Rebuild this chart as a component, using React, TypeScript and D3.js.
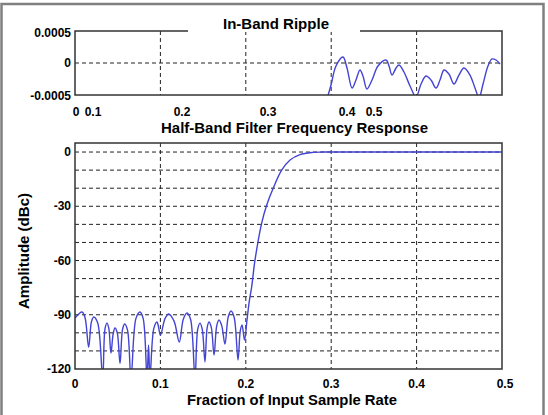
import React from 'react';
import * as d3 from 'd3';

const W = 548;
const H = 415;

// top panel: in-band ripple
const rippleFreq = [0.2951, 0.2998, 0.3056, 0.3138, 0.3185, 0.3244, 0.329, 0.3337, 0.3372, 0.3419, 0.3478, 0.3548, 0.3642, 0.3677, 0.3712, 0.3759, 0.3794, 0.3852, 0.3923, 0.3993, 0.4052, 0.411, 0.4169, 0.4227, 0.4274, 0.4321, 0.4379, 0.4438, 0.4496, 0.4555, 0.4625, 0.4684, 0.4731, 0.4778, 0.4836, 0.4883, 0.493, 0.4977];
const rippleAmp = [-0.00056, -0.000344, -0.000047, 0.000094, -0.000078, -0.000391, -0.000266, -0.000109, -0.000203, -0.000406, -0.000266, -0.000047, 0.000047, -0.000047, -0.000188, -0.000078, -0.000031, -0.000141, -0.000359, -0.00053, -0.000328, -0.000203, -0.000266, -0.000391, -0.000266, -0.000109, -0.000172, -0.000328, -0.000188, -0.000078, -0.000188, -0.000391, -0.00054, -0.000328, -0.000047, 0.000063, 0.000047, -0.000016];
const rippleGrid = [0.1, 0.2, 0.3, 0.4];
const rippleYTicks = [0.0005, 0, -0.0005];
const rippleYText = ['0.0005', '0', '-0.0005'];
// tick labels sit where the original drew them (not under the grid lines)
const rippleTickText = ['0', '0.1', '0.2', '0.3', '0.4', '0.5'];
const rippleTickAt = [0.0012, 0.0211, 0.1253, 0.226, 0.3185, 0.3501];

// bottom panel: half-band filter response (stopband lobes, transition, passband)
const respFreq = [
  0, 0.0082, 0.0117, 0.016, 0.0192, 0.0219, 0.0266, 0.0324, 0.0352, 0.0375,
  0.0396, 0.0421, 0.0447, 0.0468, 0.0495, 0.0527, 0.0557, 0.0582, 0.0615, 0.0656,
  0.0714, 0.0761, 0.0798, 0.0843, 0.0861, 0.0878, 0.0923, 0.096, 0.0975, 0.1001,
  0.1055, 0.1097, 0.116, 0.1221, 0.1268, 0.1311, 0.1353, 0.1405, 0.1437, 0.1464,
  0.149, 0.1522, 0.1548, 0.1569, 0.1596, 0.1628, 0.166, 0.1686, 0.1718, 0.1756,
  0.1795, 0.1827, 0.1864, 0.1909, 0.1935, 0.1956, 0.1985, 0.2014, 0.2043, 0.2069,
  0.2108, 0.2186, 0.2245, 0.2322, 0.242, 0.2518, 0.2635, 0.2787, 0.29, 0.32, 0.5,
];
const respDb = [
  -91.8, -88.5, -91.5, -108, -94, -91.2, -94.5, -125, -97.5, -94.6,
  -97.5, -111.2, -100.5, -97.3, -100, -117, -98, -95.1, -98.5, -125,
  -92, -88.5, -92, -125, -106.7, -125, -97.5, -94, -96, -101.2,
  -92, -89.6, -93.5, -105.1, -92.5, -89, -92.5, -125, -98, -94.6,
  -98, -116.1, -97, -94, -97, -112.3, -96, -92.9, -96, -106.2,
  -91, -87.9, -91.5, -115, -99, -95.7, -104, -92.9, -81.8, -74.5,
  -59.7, -39.3, -29.3, -19.9, -10, -4.4, -1.4, -0.2, 0, 0, 0,
];
const freqTicks = [0, 0.1, 0.2, 0.3, 0.4, 0.5];
const freqGrid = [0.1, 0.2, 0.3, 0.4];
const dbTicks = [0, -30, -60, -90, -120];
const dbGrid = [0, -10, -20, -30, -40, -50, -60, -70, -80, -90, -100, -110];

const LINE = '#4343d4';
const BOX = '#333';
const FONT = '"Liberation Sans", Arial, sans-serif';

const App: React.FC = () => {
  const xTop = d3.scaleLinear().domain([0, 0.5]).range([75, 502]);
  const yTop = d3.scaleLinear().domain([-0.0005, 0.0005]).range([95, 31]);
  const x = d3.scaleLinear().domain([0, 0.5]).range([75, 502]);
  const y = d3.scaleLinear().domain([-120, 5]).range([369, 143]);

  const rippleLine = d3.line<number>()
    .x((_, i) => xTop(rippleFreq[i]))
    .y((d) => yTop(d))
    .curve(d3.curveCatmullRom.alpha(0.5));

  const respLine = d3.line<number>()
    .x((_, i) => x(respFreq[i]))
    .y((d) => y(d))
    .curve(d3.curveCatmullRom.alpha(0.5));

  const [tx0, tx1] = xTop.range();
  const [ty1, ty0] = yTop.range();
  const [mx0, mx1] = x.range();
  const [my1, my0] = y.range();

  return (
    <svg width={W} height={H} style={{ position: 'absolute', left: 0, top: 0, background: '#fff' }}
      fontFamily={FONT} fontWeight="bold">
      <defs>
        <clipPath id="clipTop"><rect x={tx0} y={ty0} width={tx1 - tx0} height={ty1 - ty0} /></clipPath>
        <clipPath id="clipMain"><rect x={mx0} y={my0} width={mx1 - mx0} height={my1 - my0} /></clipPath>
      </defs>

      {/* outer frame */}
      <rect x={1.5} y={4} width={542} height={430} fill="none" stroke="#808080" strokeWidth={2.5} />

      {/* ===== In-Band Ripple ===== */}
      <g>
        {rippleGrid.map((g) => (
          <line key={'rv' + g} x1={xTop(g)} x2={xTop(g)} y1={ty0} y2={ty1}
            stroke="#222" strokeWidth={1} strokeDasharray="4,3" />
        ))}
        <line x1={tx0} x2={tx1} y1={yTop(0)} y2={yTop(0)} stroke="#222" strokeWidth={1} strokeDasharray="4,3" />
        <path d={rippleLine(rippleAmp) || ''} fill="none" stroke={LINE} strokeWidth={1.4} clipPath="url(#clipTop)" />
        <rect x={tx0} y={ty0} width={tx1 - tx0} height={ty1 - ty0} fill="none" stroke={BOX} strokeWidth={1.5} />
        {/* title background hides part of the top border */}
        <rect x={188} y={12} width={172} height={20} fill="#fff" />
        <text x={276} y={29} textAnchor="middle" fontSize={14} textLength={106} lengthAdjust="spacingAndGlyphs">In-Band Ripple</text>
        {rippleYTicks.map((t, i) => (
          <text key={'ry' + t} x={71} y={yTop(t) + (i === 0 ? 2 : i === 2 ? 1 : 0)} dy="0.35em" textAnchor="end" fontSize={12}>{rippleYText[i]}</text>
        ))}
        {rippleTickText.map((s, i) => (
          <text key={'rx' + i} x={xTop(rippleTickAt[i])} y={116} textAnchor="middle" fontSize={12}>{s}</text>
        ))}
      </g>

      {/* ===== Half-Band Filter Frequency Response ===== */}
      <g>
        <text x={294.5} y={133} textAnchor="middle" fontSize={14} textLength={267} lengthAdjust="spacingAndGlyphs">Half-Band Filter Frequency Response</text>
        {freqGrid.map((g) => (
          <line key={'mv' + g} x1={x(g)} x2={x(g)} y1={my0} y2={my1}
            stroke="#222" strokeWidth={1} strokeDasharray="4,3" />
        ))}
        {dbGrid.map((g) => (
          <line key={'mh' + g} x1={mx0} x2={mx1} y1={y(g)} y2={y(g)}
            stroke="#222" strokeWidth={1} strokeDasharray="4,3" />
        ))}
        <path d={respLine(respDb) || ''} fill="none" stroke={LINE} strokeWidth={1.4} clipPath="url(#clipMain)" />
        <rect x={mx0} y={my0} width={mx1 - mx0} height={my1 - my0} fill="none" stroke={BOX} strokeWidth={1.5} />
        {dbTicks.map((t) => (
          <text key={'my' + t} x={71} y={y(t)} dy="0.35em" textAnchor="end" fontSize={12}>{t}</text>
        ))}
        {freqTicks.map((t) => (
          <text key={'mx' + t} x={x(t) + (t === 0.5 ? 3 : 0)} y={388} textAnchor="middle" fontSize={12}>{t}</text>
        ))}
        <text x={292} y={405} textAnchor="middle" fontSize={14} textLength={210} lengthAdjust="spacingAndGlyphs">Fraction of Input Sample Rate</text>
        <text transform="translate(29,251) rotate(-90)" textAnchor="middle" fontSize={14} textLength={116} lengthAdjust="spacingAndGlyphs">Amplitude (dBc)</text>
      </g>
    </svg>
  );
};

export default App;
